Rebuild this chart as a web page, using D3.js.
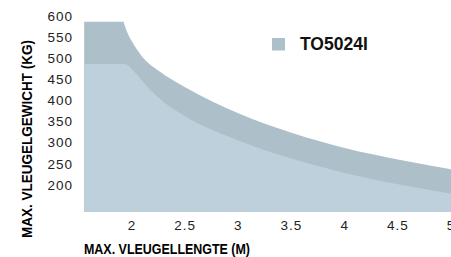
<!DOCTYPE html>
<html>
<head>
<meta charset="utf-8">
<script src="https://cdn.jsdelivr.net/npm/d3@7"></script>
<style>
  body { margin: 0; background: #fff; }
  svg { display: block; font-family: "Liberation Sans", Arial, sans-serif; }
</style>
</head>
<body>
<svg width="451" height="257"></svg>
<script>
// lengths (m)
const lengths = [1.55, 1.92, 1.95, 2, 2.05, 2.1, 2.25, 2.5, 3, 3.5, 4, 4.5, 5];
// upper band (dark) and lower band (light), kg
const maxWeight = [600, 600, 578, 553, 533, 516, 484, 445, 383, 337, 301, 274, 251];
const baseWeight = [500, 500, 498, 487, 474, 459, 420, 376, 319, 276, 242, 215, 193];
const xTicks = [2, 2.5, 3, 3.5, 4, 4.5, 5];
const yTicks = [200, 250, 300, 350, 400, 450, 500, 550, 600];
const seriesName = "TO5024I";

const svg = d3.select("svg");

const x = d3.scaleLinear().domain([2, 5]).range([132, 451]);
const y = d3.scaleLinear().domain([150, 600]).range([211.8, 21.7]);

const darkCol = "#adc0ca",
  lightCol = "#bdd0db";

// dark band: flat top, then a steep drop that eases out
const flatPts = lengths.slice(0, 2).map((l, i) => [l, maxWeight[i]]);
const curvePts = lengths.slice(1).map((l, i) => [l, maxWeight[i + 1]]);
const lineLin = d3.line().x(d => x(d[0])).y(d => y(d[1]));
const lineMono = d3.line().x(d => x(d[0])).y(d => y(d[1])).curve(d3.curveMonotoneX);
const darkPath = lineLin(flatPts)
  + lineMono(curvePts).replace(/^M/, "L")
  + "L" + x(lengths[lengths.length - 1]) + "," + y(150)
  + "L" + x(lengths[0]) + "," + y(150) + "Z";

svg.append("path")
  .attr("d", darkPath)
  .attr("fill", darkCol);

const lightArea = d3.area()
  .x((d, i) => x(lengths[i]))
  .y0(y(150))
  .y1(d => y(d))
  .curve(d3.curveMonotoneX);

svg.append("path")
  .datum(baseWeight)
  .attr("d", lightArea)
  .attr("fill", lightCol);

// y tick labels (baseline sits on the value)
svg.append("g")
  .selectAll("text")
  .data(yTicks)
  .enter().append("text")
  .attr("x", 73)
  .attr("y", d => y(d) - 1)
  .attr("text-anchor", "end")
  .attr("font-size", "13.5px")
  .attr("letter-spacing", "1px")
  .attr("fill", "#222")
  .text(d => d);

// x tick labels
svg.append("g")
  .selectAll("text")
  .data(xTicks)
  .enter().append("text")
  .attr("x", d => x(d))
  .attr("y", 230)
  .attr("text-anchor", "middle")
  .attr("font-size", "13.5px")
  .attr("letter-spacing", "1px")
  .attr("fill", "#222")
  .text(d => d);

// axis titles
svg.append("text")
  .attr("x", 84)
  .attr("y", 254)
  .attr("font-size", "14px")
  .attr("font-weight", "bold")
  .attr("textLength", 166)
  .attr("lengthAdjust", "spacingAndGlyphs")
  .text("MAX. VLEUGELLENGTE (M)");

svg.append("text")
  .attr("transform", "translate(32,238) rotate(-90)")
  .attr("font-size", "14px")
  .attr("font-weight", "bold")
  .attr("textLength", 198)
  .attr("lengthAdjust", "spacingAndGlyphs")
  .text("MAX. VLEUGELGEWICHT (KG)");

// legend
const legend = svg.append("g").attr("transform", "translate(272,38)");
legend.append("rect")
  .attr("width", 13)
  .attr("height", 12.5)
  .attr("fill", darkCol);
legend.append("text")
  .attr("x", 28)
  .attr("y", 11.5)
  .attr("font-size", "17.5px")
  .attr("font-weight", "bold")
  .attr("fill", "#111")
  .text(seriesName);
</script>
</body>
</html>
